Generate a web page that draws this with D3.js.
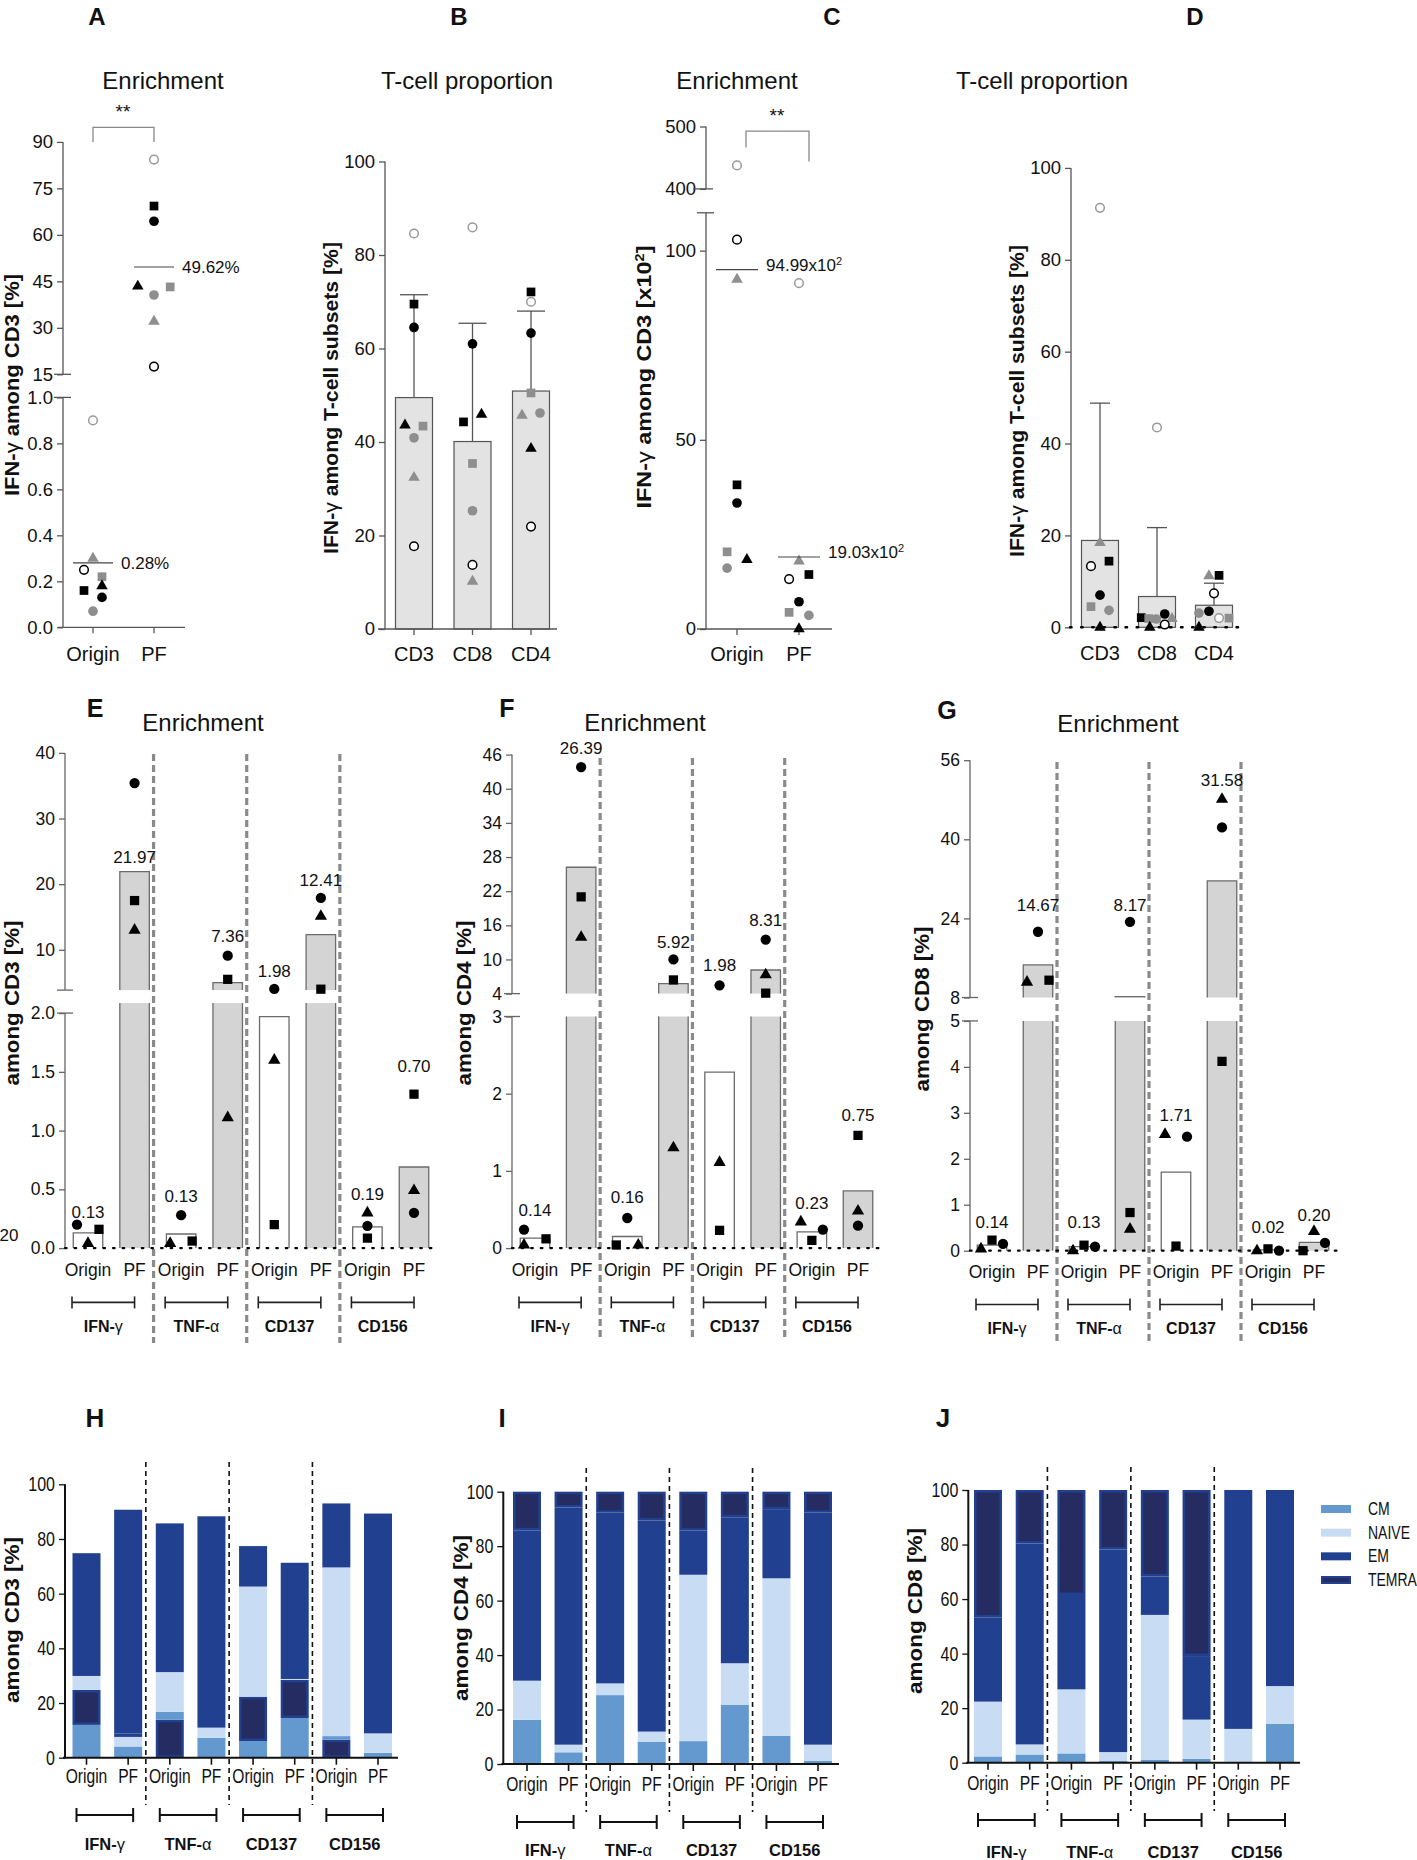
<!DOCTYPE html>
<html>
<head>
<meta charset="utf-8">
<script src="https://cdn.jsdelivr.net/npm/d3@7/dist/d3.min.js"></script>
<style>
  body { margin: 0; background: #fff; }
  text { font-family: "Liberation Sans", Arial, Helvetica, sans-serif; fill: #111; }
  text.narrow { font-family: "Liberation Sans Narrow", "Arial Narrow", "Liberation Sans", sans-serif; }
</style>
</head>
<body>
<div id="fig"></div>
<script>
// ---------- data ----------
// A: IFN-g among CD3, origin vs PF (broken axis)
const aGroups = ["Origin", "PF"];
const aOriginVals = [0.90, 0.30, 0.25, 0.22, 0.16, 0.18, 0.13, 0.07];
const aOriginShapes = ["og", "gt", "oc", "gs", "s", "t", "c", "gc"];
const aPFVals = [84.3, 69.3, 64.4, 43.4, 43.2, 40.6, 32.1, 17.5];
const aPFShapes = ["og", "s", "c", "t", "gs", "gc", "gt", "oc"];
const aMeans = [0.28, 49.62];
const aMeanLabels = ["0.28%", "49.62%"];

// B: T-cell proportion
const subsets = ["CD3", "CD8", "CD4"];
const bMeans = [49.5, 40.1, 50.9];
const bErrTop = [71.5, 65.4, 68.0];
const bVals = [
  [84.6, 69.5, 64.5, 43.6, 43.4, 40.9, 32.4, 17.7],
  [85.9, 61.0, 44.3, 45.9, 35.4, 25.3, 13.7, 10.2],
  [72.1, 70.0, 63.3, 50.5, 45.7, 46.2, 38.6, 21.9]
];
const bShapes = [
  ["og", "s", "c", "t", "gs", "gc", "gt", "oc"],
  ["og", "c", "s", "t", "gs", "gc", "oc", "gt"],
  ["s", "og", "c", "gs", "gt", "gc", "t", "oc"]
];

// C: IFN-g among CD3 [x10^2]
const cOriginVals = [437.7, 102.9, 92.4, 38.1, 33.3, 20.4, 18.3, 16.1];
const cOriginShapes = ["og", "oc", "gt", "s", "c", "gs", "t", "gc"];
const cPFVals = [91.4, 17.9, 13.2, 14.4, 7.2, 4.4, 3.6, 0];
const cPFShapes = ["og", "gt", "oc", "s", "c", "gs", "gc", "t"];
const cMeans = [94.99, 19.03];
const cMeanLabels = ["94.99x10", "19.03x10"];

// D: T-cell proportion (second set)
const dMeans = [18.9, 6.7, 4.8];
const dErrTop = [48.8, 21.7, 9.6];
const dVals = [
  [91.3, 18.4, 13.3, 14.4, 7.0, 4.5, 3.7, 0],
  [43.5, 2.1, 1.9, 1.8, 2.9, 1.9, 0.6, 0],
  [11.2, 11.3, 7.4, 3.5, 3.1, 2.0, 2.0, 0]
];
const dShapes = [
  ["og", "gt", "oc", "s", "c", "gs", "gc", "t"],
  ["og", "s", "gs", "gc", "c", "gt", "oc", "t"],
  ["gt", "s", "oc", "c", "gc", "og", "gs", "t"]
];

// E-G: enrichment per marker, bars = mean, dots = donors (circle, triangle, square)
const markers = ["IFN-γ", "TNF-α", "CD137", "CD156"];
const sources = ["Origin", "PF"];
const dotShapes = ["c", "t", "s"];

const eBars = [0.13, 21.9, 0.12, 5.0, 1.97, 12.3, 0.18, 0.69];
const eLabels = ["0.13", "21.97", "0.13", "7.36", "1.98", "12.41", "0.19", "0.70"];
const eLabelAt = [0.31, 24.1, 0.44, 12.1, 6.8, 20.6, 0.46, 1.55];
const eDots = [[0.20, 0.04, 0.16], [35.4, 13.0, 17.5], [0.28, 0.04, 0.06], [9.1, 1.11, 5.5],
               [4.04, 1.60, 0.20], [17.9, 15.1, 4.0], [0.19, 0.30, 0.085], [0.30, 0.49, 1.31]];

const fBars = [0.13, 26.2, 0.15, 5.77, 2.28, 8.15, 0.21, 0.74];
const fLabels = ["0.14", "26.39", "0.16", "5.92", "1.98", "8.31", "0.23", "0.75"];
const fLabelAt = [0.49, 47.1, 0.66, 13.0, 9.0, 17.0, 0.59, 1.72];
const fDots = [[0.24, 0.04, 0.12], [43.8, 13.9, 21.0], [0.39, 0.04, 0.04], [10.0, 1.30, 6.4],
               [5.46, 1.11, 0.23], [13.5, 7.3, 4.08], [0.24, 0.34, 0.10], [0.29, 0.48, 1.46]];

const gBars = [0.12, 14.6, 0.09, 8.17, 1.71, 31.6, 0.02, 0.18];
const gLabels = ["0.14", "14.67", "0.13", "8.17", "1.71", "31.58", "0.02", "0.20"];
const gLabelAt = [0.62, 26.8, 0.62, 26.8, 2.95, 51.9, 0.51, 0.78];
const gDots = [[0.15, 0.04, 0.23], [21.3, 11.1, 11.5], [0.09, 0, 0.12], [23.3, 0.47, 0.83],
               [2.48, 2.53, 0.10], [42.4, 48.1, 4.12], [0, 0, 0.04], [0.17, 0.42, 0]];

// H-J: memory phenotype, cumulative tops in stacking order
const phenos = ["CM", "NAIVE", "EM", "TEMRA"];
const hStacks = [
  [["CM", 12.0], ["TEMRA", 24.8], ["NAIVE", 29.9], ["EM", 74.8]],
  [["CM", 4.1], ["NAIVE", 7.6], ["TEMRA", 8.9], ["EM", 90.7]],
  [["TEMRA", 13.9], ["CM", 16.8], ["NAIVE", 31.3], ["EM", 85.7]],
  [["CM", 7.3], ["NAIVE", 11.0], ["EM", 88.3]],
  [["CM", 6.1], ["TEMRA", 22.3], ["NAIVE", 62.6], ["EM", 77.4]],
  [["CM", 14.5], ["TEMRA", 28.5], ["NAIVE", 28.8], ["EM", 71.3]],
  [["TEMRA", 6.6], ["CM", 7.9], ["NAIVE", 69.6], ["EM", 93.0]],
  [["CM", 1.8], ["NAIVE", 8.9], ["EM", 89.3]]
];
const iStacks = [
  [["CM", 16.2], ["NAIVE", 30.6], ["EM", 85.8], ["TEMRA", 100]],
  [["CM", 4.3], ["NAIVE", 7.1], ["EM", 94.2], ["TEMRA", 100]],
  [["CM", 25.3], ["NAIVE", 29.6], ["EM", 92.3], ["TEMRA", 100]],
  [["CM", 8.1], ["NAIVE", 11.9], ["EM", 89.4], ["TEMRA", 100]],
  [["CM", 8.4], ["NAIVE", 69.5], ["EM", 85.7], ["TEMRA", 100]],
  [["CM", 21.8], ["NAIVE", 37.0], ["EM", 90.6], ["TEMRA", 100]],
  [["CM", 10.4], ["NAIVE", 68.2], ["EM", 93.6], ["TEMRA", 100]],
  [["CM", 1.2], ["NAIVE", 7.1], ["EM", 92.3], ["TEMRA", 100]]
];
const jStacks = [
  [["CM", 2.3], ["NAIVE", 22.4], ["EM", 53.3], ["TEMRA", 100]],
  [["CM", 3.0], ["NAIVE", 6.7], ["EM", 80.4], ["TEMRA", 100]],
  [["CM", 3.4], ["NAIVE", 26.9], ["EM", 61.5], ["TEMRA", 100]],
  [["CM", 0.6], ["NAIVE", 3.9], ["EM", 78.2], ["TEMRA", 100]],
  [["CM", 1.0], ["NAIVE", 54.2], ["EM", 68.3], ["TEMRA", 100]],
  [["CM", 1.4], ["NAIVE", 15.8], ["EM", 39.1], ["TEMRA", 100]],
  [["NAIVE", 12.4], ["EM", 100]],
  [["CM", 14.2], ["NAIVE", 28.1], ["EM", 100]]
];

// side-by-side slots for overlapping dots (layout only)
const aSlots = [[0, 0, -1, 1, -1, 1, 1, 0], [0, 0, 0, -1.8, 1.8, 0, 0, 0]];
const bSlots = [[0, 0, 0, -1, 1, 0, 0, 0], [0, 0, -1, 1, 0, 0, 0, 0], [0, 0, 0, 0, -1, 1, 0, 0]];
const cSlots = [[0, 0, 0, 0, 0, -1.1, 1.1, -1.1], [0, 0, -1.1, 1.1, 0, -1.1, 1.1, 0]];
const dSlots = [[0, 0, -1, 1, 0, -1, 1, 0], [0, -1.75, -0.92, -0.08, 0.86, 1.67, 0.86, -0.8],
                [-0.56, 0.56, 0, -0.56, -1.67, 0.56, 1.67, -1.67]];
const eSlots = [[-1, 0, 1], [0, 0, 0], [0, -1, 1], [0, 0, 0], [0, 0, 0], [0, 0, 0], [0, 0, 0], [0, 0, 0]];
const fSlots = [[-1, -1, 1], [0, 0, 0], [0, 1, -1], [0, 0, 0], [0, 0, 0], [0, 0, 0], [1, -1, 0], [0, 0, 0]];
const gSlots = [[1, -1, 0], [0, -1, 1], [1, -1, 0], [0, 0, 0], [1, -1, 0], [0, 0, 0], [1, -1, 0], [1, 0, -1]];

// ---------- setup ----------
const W = 1417, H = 1860;
const GRAY = "#8e8e8e", AX = "#555";
const phenoColor = { CM: "#6499d0", NAIVE: "#c8ddf3", EM: "#21408f", TEMRA: "#252c62" };

const svg = d3.select("#fig").append("svg").attr("width", W).attr("height", H);
svg.append("rect").attr("width", W).attr("height", H).attr("fill", "#fff");

function marker(g, shape, x, y, k) {
  k = k || 1;
  const last = shape[shape.length - 1];
  const type = last === "s" ? d3.symbolSquare : last === "t" ? d3.symbolTriangle : d3.symbolCircle;
  const size = (last === "s" ? 66 : last === "t" ? 50 : 64) * k;
  const open = shape[0] === "o";
  const col = shape[0] === "g" ? GRAY : "#000";
  g.append("path")
    .attr("d", d3.symbol(type, open ? size * 0.8 : size)())
    .attr("transform", "translate(" + x + "," + y + ")")
    .attr("fill", open ? "#fff" : col)
    .attr("stroke", open ? (shape === "og" ? "#9a9a9a" : "#000") : "none")
    .attr("stroke-width", open ? 1.5 : 0);
}

function txt(g, x, y, s, size, opts) {
  opts = opts || {};
  const t = g.append("text").attr("x", x).attr("y", y).attr("dy", "0.35em")
    .attr("text-anchor", opts.anchor || "middle").attr("font-size", size).text(s);
  if (opts.bold) t.attr("font-weight", "bold");
  if (opts.cls) t.attr("class", opts.cls);
  return t;
}

// rotated bold axis title, parts can be thin (greek letter) or superscript
function yTitle(g, cx, cy, parts, size, len) {
  const t = g.append("text")
    .attr("transform", "translate(" + cx + "," + cy + ") rotate(-90)")
    .attr("text-anchor", "middle").attr("dy", "0.35em")
    .attr("font-size", size).attr("font-weight", "bold");
  parts.forEach(p => {
    const ts = t.append("tspan").text(p.t);
    if (p.thin) ts.attr("font-weight", "normal");
    if (p.sup) ts.attr("baseline-shift", "super").attr("font-size", size * 0.62);
  });
  if (len) t.attr("textLength", len).attr("lengthAdjust", "spacingAndGlyphs");
}

function leftTicks(g, x, scale, ticks, fmt, size, col, cls) {
  const a = g.append("g").attr("transform", "translate(" + x + ",0)")
    .call(d3.axisLeft(scale).tickValues(ticks).tickFormat(fmt).tickSize(6).tickPadding(4));
  a.select(".domain").remove();
  a.selectAll("line").attr("stroke", col).attr("stroke-width", 1.3);
  a.selectAll("text").attr("font-size", size).attr("fill", "#111");
  if (cls) a.selectAll("text").attr("class", cls);
  return a;
}

function vline(g, x, y1, y2, col, w) {
  return g.append("line").attr("x1", x).attr("x2", x).attr("y1", y1).attr("y2", y2)
    .attr("stroke", col).attr("stroke-width", w || 1.3);
}
function hline(g, x1, x2, y, col, w) {
  return g.append("line").attr("x1", x1).attr("x2", x2).attr("y1", y).attr("y2", y)
    .attr("stroke", col).attr("stroke-width", w || 1.3);
}

// ---------- A ----------
{
  const g = svg.append("g");
  const ax = 63;
  const yU = d3.scaleLinear().domain([15, 90]).range([374.3, 141.9]);
  const yL = d3.scaleLinear().domain([0, 1]).range([627.3, 397.4]);
  const yv = v => v >= 15 ? yU(v) : yL(v);
  const x = d3.scalePoint().domain(aGroups).range([93, 154]);

  txt(g, 97, 17, "A", 24, { bold: true });
  txt(g, 163, 81, "Enrichment", 24);
  leftTicks(g, ax, yU, [15, 30, 45, 60, 75, 90], d3.format("d"), 18.5, AX);
  leftTicks(g, ax, yL, [0, 0.2, 0.4, 0.6, 0.8, 1.0], d3.format(".1f"), 18.5, AX);
  vline(g, ax, yU(90), yU(15), AX);
  vline(g, ax, yL(1), yL(0), AX);
  hline(g, ax - 9, ax + 8, yU(15), AX);
  hline(g, ax - 9, ax + 8, yL(1), AX);
  hline(g, 58, 185, yL(0), AX);
  aGroups.forEach(k => vline(g, x(k), yL(0), yL(0) + 6, AX));
  aGroups.forEach(k => txt(g, x(k), 654, k, 20));
  yTitle(g, 12, 385, [{ t: "IFN-" }, { t: "γ", thin: true }, { t: " among CD3  [%]" }], 20, 222);

  // significance bracket
  const br = d3.path();
  br.moveTo(x("Origin"), 142); br.lineTo(x("Origin"), 127.3); br.lineTo(x("PF"), 127.3); br.lineTo(x("PF"), 142);
  g.append("path").attr("d", br.toString()).attr("fill", "none").attr("stroke", "#888").attr("stroke-width", 1.3);
  txt(g, 123, 111, "**", 19);

  [aOriginVals, aPFVals].forEach((vals, gi) => {
    const shapes = gi === 0 ? aOriginShapes : aPFShapes;
    vals.forEach((v, i) => marker(g, shapes[i], x(aGroups[gi]) + aSlots[gi][i] * 9, yv(v), 1.15));
    const cx = x(aGroups[gi]), my = yv(aMeans[gi]);
    hline(g, cx - 20, cx + 20, my, "#444", 1.2);
    txt(g, cx + 28, my, aMeanLabels[gi], 17, { anchor: "start" });
  });
}

// ---------- B & D ----------
function barPanel(cfg) {
  const g = svg.append("g");
  const y = d3.scaleLinear().domain([0, 100]).range(cfg.yRange);
  const x = d3.scalePoint().domain(subsets).range(cfg.xRange);
  const bw = 37;
  txt(g, cfg.letter[1], cfg.letter[2], cfg.letter[0], 24, { bold: true });
  txt(g, cfg.title[0], cfg.title[1], "T-cell proportion", 24);
  leftTicks(g, cfg.axisX, y, d3.range(0, 101, 20), d3.format("d"), 18.5, AX);
  vline(g, cfg.axisX, y(100), y(0), AX);
  subsets.forEach((s, i) => {
    const cx = x(s);
    g.append("rect").attr("x", cx - bw / 2).attr("y", y(cfg.means[i]))
      .attr("width", bw).attr("height", y(0) - y(cfg.means[i]))
      .attr("fill", "#e3e3e3").attr("stroke", "#555").attr("stroke-width", 1.2);
    vline(g, cx, y(cfg.means[i]), y(cfg.err[i]), "#555", 1.3);
    hline(g, cx - cfg.cap / 2, cx + cfg.cap / 2, y(cfg.err[i]), "#555", 1.3);
  });
  if (cfg.dotted) {
    hline(g, cfg.axisX - 1, cfg.xEnd, y(0), "#000", 2.4)
      .attr("stroke-dasharray", "1.6,9.5").attr("stroke-linecap", "round");
  } else {
    hline(g, cfg.axisX - 7, cfg.xEnd, y(0), AX);
    subsets.forEach(s => vline(g, x(s), y(0), y(0) + 6, AX));
  }
  subsets.forEach((s, i) => {
    cfg.vals[i].forEach((v, j) => marker(g, cfg.shapes[i][j], x(s) + cfg.slots[i][j] * 9, y(v), 1.15));
    txt(g, x(s), cfg.labY, s, 20);
  });
  yTitle(g, cfg.yt[0], cfg.yt[1], [{ t: "IFN-" }, { t: "γ", thin: true }, { t: " among T-cell subsets [%]" }], 20, 312);
}

barPanel({ letter: ["B", 459, 17], title: [467, 81], axisX: 385, yRange: [629, 161.5], xRange: [414, 531],
  xEnd: 557, means: bMeans, err: bErrTop, vals: bVals, shapes: bShapes, slots: bSlots, cap: 28,
  labY: 654, yt: [331, 398], dotted: false });
barPanel({ letter: ["D", 1195, 17], title: [1042, 81], axisX: 1071, yRange: [627.3, 167.9], xRange: [1100, 1214],
  xEnd: 1243, means: dMeans, err: dErrTop, vals: dVals, shapes: dShapes, slots: dSlots, cap: 20,
  labY: 653, yt: [1017, 401], dotted: true });

// ---------- C ----------
{
  const g = svg.append("g");
  const ax = 706;
  const yU = d3.scaleLinear().domain([400, 500]).range([188.9, 126.5]);
  const yL = d3.scaleLinear().domain([0, 110]).range([629, 212.8]);
  const yv = v => v >= 400 ? yU(v) : yL(v);
  const x = d3.scalePoint().domain(aGroups).range([737, 799]);

  txt(g, 832, 17, "C", 24, { bold: true });
  txt(g, 737, 81, "Enrichment", 24);
  leftTicks(g, ax, yU, [400, 500], d3.format("d"), 18.5, AX);
  leftTicks(g, ax, yL, [0, 50, 100], d3.format("d"), 18.5, AX);
  vline(g, ax, yU(500), yU(400), AX);
  vline(g, ax, yL(110), yL(0), AX);
  hline(g, ax - 13, ax + 7, yU(400), AX);
  hline(g, ax - 9, ax + 8, yL(110), AX);
  hline(g, 697, 832, yL(0), AX);
  aGroups.forEach(k => vline(g, x(k), yL(0), yL(0) + 6, AX));
  aGroups.forEach(k => txt(g, x(k), 654, k, 20));
  yTitle(g, 644, 377, [{ t: "IFN-" }, { t: "γ", thin: true }, { t: "  among CD3 [x10" }, { t: "2", sup: true }, { t: "]" }], 20, 263);

  const br = d3.path();
  br.moveTo(746, 147.4); br.lineTo(746, 131.2); br.lineTo(809, 131.2); br.lineTo(809, 161.5);
  g.append("path").attr("d", br.toString()).attr("fill", "none").attr("stroke", "#888").attr("stroke-width", 1.3);
  txt(g, 777, 115, "**", 19);

  [cOriginVals, cPFVals].forEach((vals, gi) => {
    const shapes = gi === 0 ? cOriginShapes : cPFShapes;
    vals.forEach((v, i) => marker(g, shapes[i], x(aGroups[gi]) + cSlots[gi][i] * 9, yv(v), 1.15));
    const cx = x(aGroups[gi]), my = yv(cMeans[gi]);
    hline(g, cx - 21, cx + 21, my, "#444", 1.2);
    const t = txt(g, cx + 29, my - 5, cMeanLabels[gi], 17, { anchor: "start" });
    t.append("tspan").attr("baseline-shift", "super").attr("font-size", 11).text("2");
  });
}

// ---------- E, F, G ----------
function groupLabel(g, x, y, m, size) {
  const gl = g.append("text").attr("x", x).attr("y", y).attr("dy", "0.35em")
    .attr("text-anchor", "middle").attr("font-size", size).attr("font-weight", "bold");
  if (m.endsWith("γ") || m.endsWith("α")) {
    gl.append("tspan").text(m.slice(0, -1));
    gl.append("tspan").attr("font-weight", "normal").text(m.slice(-1));
  } else gl.text(m);
}

function enrichPanel(cfg) {
  const g = svg.append("g");
  const yU = d3.scaleLinear().domain(cfg.upDom).range(cfg.upRange);
  const yL = d3.scaleLinear().domain(cfg.loDom).range(cfg.loRange);
  const uMin = cfg.upDom[0], lMax = cfg.loDom[1];
  const yv = v => v >= uMin ? yU(v) : yL(Math.min(v, lMax));
  const cats = [];
  markers.forEach(m => sources.forEach(s => cats.push(m + "|" + s)));
  const x = d3.scalePoint().domain(cats).range(cfg.xRange);
  const bw = 29.5, ax = cfg.axisX;
  const edge = "#6b6b6b";

  txt(g, cfg.letter[1], cfg.letter[2], cfg.letter[0], 25, { bold: true });
  txt(g, cfg.title[0], cfg.title[1], "Enrichment", 24);

  // separators
  [1, 3, 5].forEach(i => vline(g, x(cats[i]) + 19, cfg.sep[0], cfg.sep[1], "#8a8a8a", 3.2)
    .attr("stroke-dasharray", "7,4"));

  // bars, broken into lower and upper part
  cfg.bars.forEach((v, i) => {
    const cx = x(cats[i]), fill = i % 2 ? "#d4d4d4" : "#fff";
    const y0 = yL(0), lt = yL(Math.min(v, lMax));
    g.append("rect").attr("x", cx - bw / 2).attr("y", lt).attr("width", bw).attr("height", y0 - lt).attr("fill", fill);
    const p = d3.path();
    p.moveTo(cx - bw / 2, y0); p.lineTo(cx - bw / 2, lt);
    if (v <= lMax) p.lineTo(cx + bw / 2, lt); else p.moveTo(cx + bw / 2, lt);
    p.lineTo(cx + bw / 2, y0);
    g.append("path").attr("d", p.toString()).attr("fill", "none").attr("stroke", edge).attr("stroke-width", 1.3);
    if (v > uMin) {
      const t = yU(v), b = yU(uMin);
      g.append("rect").attr("x", cx - bw / 2).attr("y", t).attr("width", bw).attr("height", b - t).attr("fill", fill);
      const q = d3.path();
      q.moveTo(cx - bw / 2, b); q.lineTo(cx - bw / 2, t); q.lineTo(cx + bw / 2, t); q.lineTo(cx + bw / 2, b);
      g.append("path").attr("d", q.toString()).attr("fill", "none").attr("stroke", edge).attr("stroke-width", 1.3);
    }
  });

  // axis
  const loTop = cfg.loTicks[cfg.loTicks.length - 1];
  leftTicks(g, ax, yU, cfg.upTicks, d3.format("d"), 17.5, "#666");
  leftTicks(g, ax, yL, cfg.loTicks, d3.format(cfg.loFmt), 17.5, "#666");
  vline(g, ax, yU(cfg.upDom[1]), yU(uMin), "#666");
  vline(g, ax, yL(loTop), yL(0), "#666");
  hline(g, ax - 8, ax + 8, yU(uMin), "#666");
  hline(g, ax - 8, ax + 8, yL(loTop), "#666");
  hline(g, ax, cfg.xEnd, yL(0), "#000", 2.3).attr("stroke-dasharray", "1.6,8").attr("stroke-linecap", "round");

  // dots and value labels
  cfg.dots.forEach((d, i) => {
    d.forEach((v, j) => marker(g, dotShapes[j], x(cats[i]) + cfg.slots[i][j] * 11, yv(v), 1.3));
    txt(g, x(cats[i]), yv(cfg.labelAt[i]), cfg.labels[i], 17);
  });

  // category labels and brackets
  cats.forEach((c, i) => txt(g, x(c), cfg.labY, sources[i % 2], 17.5));
  markers.forEach((m, k) => {
    const x1 = x(cats[2 * k]) - 16, x2 = x(cats[2 * k + 1]);
    hline(g, x1, x2, cfg.brY, "#222", 1.6);
    vline(g, x1, cfg.brY - 6, cfg.brY + 6, "#222", 1.6);
    vline(g, x2, cfg.brY - 6, cfg.brY + 6, "#222", 1.6);
    groupLabel(g, (x1 + x2) / 2, cfg.grpY, m, 16);
  });
  yTitle(g, cfg.yt[0], cfg.yt[1], [{ t: cfg.yLabel }], 21, 165);
  return g;
}

const gE = enrichPanel({ letter: ["E", 95, 708], title: [203, 723], axisX: 65,
  upDom: [3.86, 40], upRange: [990.1, 752.9], loDom: [0, 2.085], loRange: [1248.1, 1003.1],
  upTicks: [10, 20, 30, 40], loTicks: [0, 0.5, 1, 1.5, 2], loFmt: ".1f",
  xRange: [88, 414], xEnd: 438, sep: [754, 1343], labY: 1270, brY: 1302.4, grpY: 1326,
  bars: eBars, labels: eLabels, labelAt: eLabelAt, dots: eDots, slots: eSlots,
  yLabel: "among CD3  [%]", yt: [12, 1003] });
txt(gE, 9, 1235, "20", 17);

enrichPanel({ letter: ["F", 507, 708], title: [645, 723], axisX: 512,
  upDom: [4, 46], upRange: [993.6, 754.6], loDom: [0, 3], loRange: [1248.1, 1016.5],
  upTicks: [4, 10, 16, 22, 28, 34, 40, 46], loTicks: [0, 1, 2, 3], loFmt: "d",
  xRange: [535, 858], xEnd: 883, sep: [758, 1339], labY: 1270, brY: 1302.4, grpY: 1326,
  bars: fBars, labels: fLabels, labelAt: fLabelAt, dots: fDots, slots: fSlots,
  yLabel: "among CD4  [%]", yt: [464, 1003] });

enrichPanel({ letter: ["G", 947, 710], title: [1118, 724], axisX: 970,
  upDom: [8, 56], upRange: [997.5, 760.2], loDom: [0, 5], loRange: [1250.7, 1020.9],
  upTicks: [8, 24, 40, 56], loTicks: [0, 1, 2, 3, 4, 5], loFmt: "d",
  xRange: [992, 1314], xEnd: 1338, sep: [762, 1341], labY: 1272, brY: 1304.5, grpY: 1328,
  bars: gBars, labels: gLabels, labelAt: gLabelAt, dots: gDots, slots: gSlots,
  yLabel: "among CD8  [%]", yt: [922, 1009] });

// ---------- H, I, J ----------
function stackPanel(cfg) {
  const g = svg.append("g");
  const y = d3.scaleLinear().domain([0, 100]).range(cfg.yRange);
  const cats = [];
  markers.forEach(m => sources.forEach(s => cats.push(m + "|" + s)));
  const x = d3.scalePoint().domain(cats).range(cfg.xRange);
  const bw = 28, ax = cfg.axisX;

  txt(g, cfg.letter[1], cfg.letter[2], cfg.letter[0], 26, { bold: true });

  cfg.stacks.forEach((segs, i) => {
    const cx = x(cats[i]);
    let lo = 0;
    segs.forEach(([k, top]) => {
      const yt = y(top), yb = y(lo), h = yb - yt;
      if (k === "TEMRA" && h > 4) {
        g.append("rect").attr("x", cx - bw / 2).attr("y", yt).attr("width", bw).attr("height", h).attr("fill", phenoColor.EM);
        g.append("rect").attr("x", cx - bw / 2 + 2.5).attr("y", yt + 2.5).attr("width", bw - 5).attr("height", h - 5).attr("fill", phenoColor.TEMRA);
      } else {
        g.append("rect").attr("x", cx - bw / 2).attr("y", yt).attr("width", bw).attr("height", h)
          .attr("fill", phenoColor[k === "TEMRA" ? "EM" : k]);
      }
      lo = top;
    });
  });

  [1, 3, 5].forEach(i => vline(g, x(cats[i]) + 17.7, cfg.sep[0], cfg.sep[1], "#111", 1.6)
    .attr("stroke-dasharray", "5,4"));

  leftTicks(g, ax, y, d3.range(0, 101, 20), d3.format("d"), 20, "#111", "narrow");
  vline(g, ax, y(100), y(0), "#111", 2);
  hline(g, ax - 2, cfg.xEnd, y(0), "#111", 2);
  cats.forEach((c, i) => {
    vline(g, x(c), y(0), y(0) + 7, "#111", 1.6);
    txt(g, x(c), cfg.labY, sources[i % 2], 19.5, { cls: "narrow" });
  });
  markers.forEach((m, k) => {
    const x1 = x(cats[2 * k]) - 10, x2 = x(cats[2 * k + 1]) + 5;
    hline(g, x1, x2, cfg.brY, "#111", 2);
    vline(g, x1, cfg.brY - 7, cfg.brY + 7, "#111", 2);
    vline(g, x2, cfg.brY - 7, cfg.brY + 7, "#111", 2);
    groupLabel(g, (x1 + x2) / 2, cfg.grpY, m, 16.5);
  });
  yTitle(g, cfg.yt[0], cfg.yt[1], [{ t: cfg.yLabel }], 21, 166);
  return g;
}

stackPanel({ letter: ["H", 95, 1418], axisX: 65, yRange: [1757.7, 1484.3], xRange: [86.5, 378], xEnd: 398,
  sep: [1462, 1805], labY: 1776, brY: 1815, grpY: 1844, stacks: hStacks,
  yLabel: "among CD3  [%]", yt: [12, 1620] });
stackPanel({ letter: ["I", 502, 1418], axisX: 503.3, yRange: [1764, 1491.7], xRange: [527, 818], xEnd: 839,
  sep: [1468, 1812], labY: 1784, brY: 1822, grpY: 1850, stacks: iStacks,
  yLabel: "among CD4  [%]", yt: [461, 1618] });
const gJ = stackPanel({ letter: ["J", 943, 1418], axisX: 968.3, yRange: [1762.7, 1490], xRange: [988, 1280], xEnd: 1300,
  sep: [1467, 1811], labY: 1783, brY: 1820, grpY: 1852, stacks: jStacks,
  yLabel: "among CD8  [%]", yt: [915, 1611] });

// condensed look for the narrow-font texts (squeeze measured width)
svg.selectAll("text.narrow").each(function () {
  const len = this.getComputedTextLength();
  d3.select(this).attr("textLength", len * 0.8).attr("lengthAdjust", "spacingAndGlyphs");
});

// legend (squeezed with a horizontal scale so the box itself is narrow)
const legY = d3.scalePoint().domain(phenos).range([1509, 1580]);
phenos.forEach(p => {
  gJ.append("rect").attr("x", 1321).attr("y", legY(p) - 4).attr("width", 30).attr("height", 8)
    .attr("fill", p === "TEMRA" ? phenoColor.EM : phenoColor[p]);
  if (p === "TEMRA") gJ.append("rect").attr("x", 1323).attr("y", legY(p) - 2).attr("width", 26).attr("height", 4).attr("fill", phenoColor.TEMRA);
  gJ.append("text").attr("transform", "translate(1368," + legY(p) + ") scale(0.8,1)")
    .attr("dy", "0.35em").attr("font-size", 17.5).text(p);
});
</script>
</body>
</html>
